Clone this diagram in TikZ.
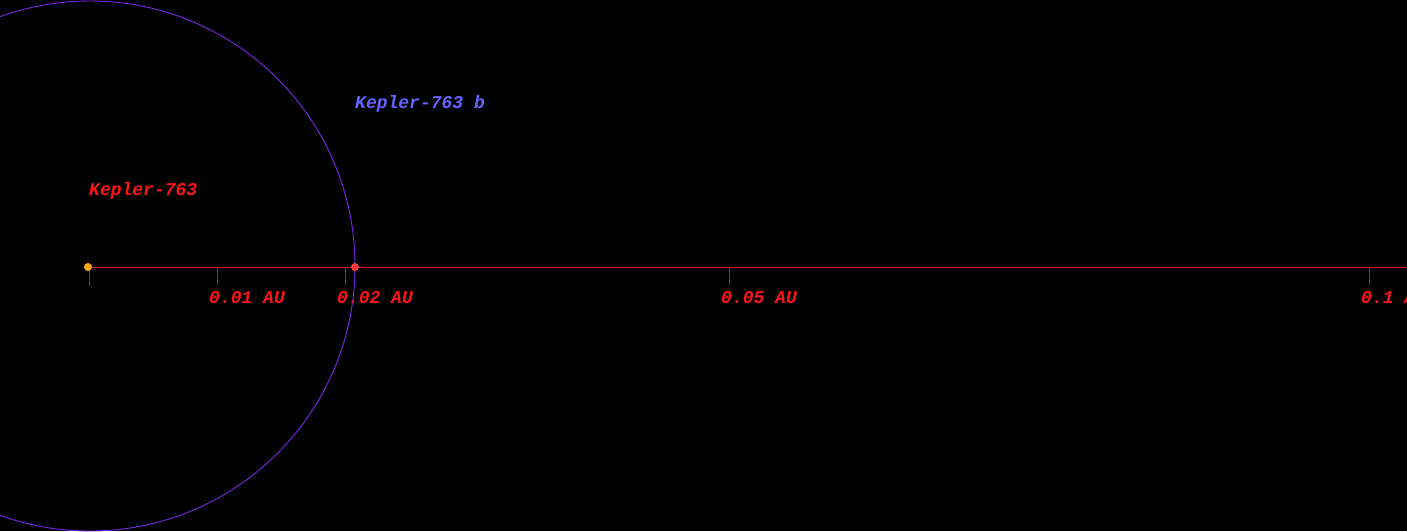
\documentclass[tikz,border=0pt]{standalone}
\usepackage{fontspec}
\setmonofont{Liberation Mono}
\definecolor{axisred}{RGB}{210,20,20}
\definecolor{labred}{RGB}{255,20,20}
\definecolor{orbitc}{RGB}{120,40,230}
\definecolor{planetc}{RGB}{255,60,60}
\definecolor{starc}{RGB}{255,170,20}
\definecolor{bluelab}{RGB}{100,100,255}
\tikzset{
  lab/.style={anchor=base west, inner sep=0pt, font=\fontsize{18}{20}\ttfamily\bfseries\itshape},
  ticks/.style={draw=axisred, line width=0.8pt},
}
\begin{document}
\begin{tikzpicture}[x=1pt,y=-1pt]
\fill[black] (0,0) rectangle (1407,531);
\useasboundingbox (0,0) rectangle (1407,531);
% orbit
\draw[orbitc, line width=0.9pt] (90,266) circle (265);
% axis
\coordinate (s) at (89,267);
\coordinate (e) at (1407,267);
\draw[ticks] (s) -- (e);
\coordinate (t0) at (89,267);
\coordinate (t1) at (217,267);
\coordinate (t2) at (345,267);
\coordinate (t5) at (729,267);
\coordinate (t10) at (1369,267);
\draw[ticks] (t0) -- ++(0,19);
\draw[ticks] (t1) -- ++(0,18);
\draw[ticks] (t2) -- ++(0,18);
\draw[ticks] (t5) -- ++(0,18);
\draw[ticks] (t10) -- ++(0,18);
% labels
\node[lab, text=labred] (l1) at (209,303) {0.01 AU};
\node[lab, text=labred] (l2) at (337,303) {0.02 AU};
\node[lab, text=labred] (l5) at (721,303) {0.05 AU};
\node[lab, text=labred] (l10) at (1361,303) {0.1 AU};
\node[lab, text=labred] (star) at (89,195) {Kepler-763};
\node[lab, text=bluelab] (pl) at (355,108) {Kepler-763 b};
% star and planet
\fill[starc] (88,267) circle (4);
\fill[planetc] (355,267) circle (4);
\end{tikzpicture}
\end{document}
